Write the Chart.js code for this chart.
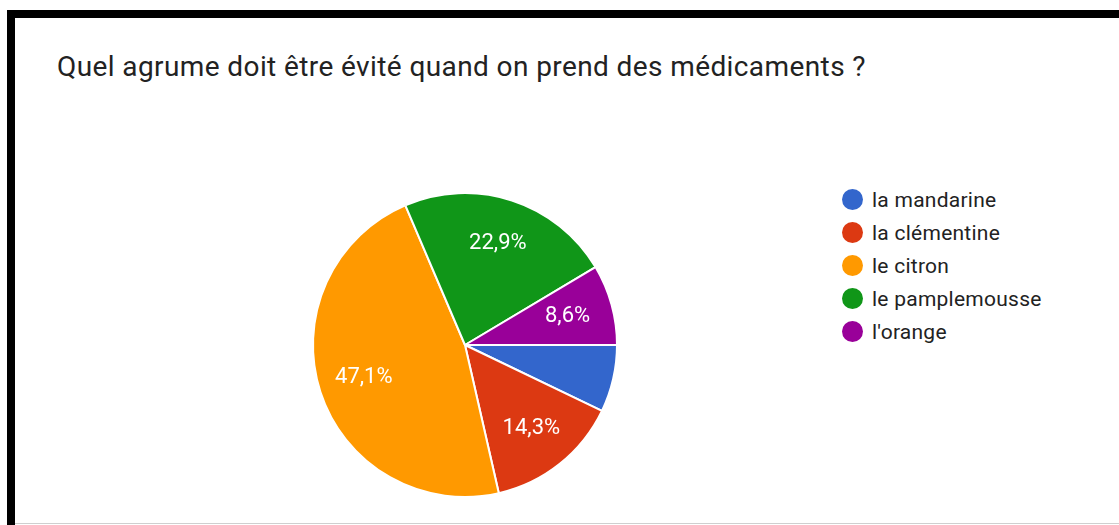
<!DOCTYPE html>
<html lang="fr">
<head>
<meta charset="utf-8">
<title>Quel agrume doit être évité</title>
<script src="https://cdn.jsdelivr.net/npm/chart.js@4/dist/chart.umd.min.js"></script>
<style>
  html, body { margin: 0; padding: 0; background: #fff; }
  body { width: 1119px; height: 525px; position: relative; overflow: hidden; font-family: Roboto, Arial, sans-serif; }

  /* frame bits from the screenshot */
  .bar-top  { position: absolute; left: 7px; top: 10px; width: 1112px; height: 8px; background: #000; }
  .bar-left { position: absolute; left: 7px; top: 10px; width: 8px; height: 515px; background: #000; }
  .line-bot { position: absolute; left: 15px; top: 523px; width: 1104px; height: 1px; background: #cfcfcf; }

  .title { position: absolute; left: 57px; top: 53px; font-size: 28px; line-height: 28px; letter-spacing: 0.4px; color: #222; white-space: nowrap; }

  .pie-wrap { position: absolute; left: 300px; top: 180px; width: 330px; height: 330px; }

  .legend { position: absolute; left: 842px; top: 183px; margin: 0; padding: 0; list-style: none; }
  .legend li { display: flex; align-items: center; height: 33px; }
  .legend .dot { width: 21px; height: 21px; border-radius: 50%; margin-right: 9px; flex: none; }
  .legend .txt { font-size: 21px; letter-spacing: 0.25px; color: #222; white-space: nowrap; }
</style>
</head>
<body>

<div class="bar-top"></div>
<div class="bar-left"></div>
<div class="line-bot"></div>

<div class="title">Quel agrume doit être évité quand on prend des médicaments ?</div>

<div class="pie-wrap"><canvas id="pieChart"></canvas></div>
<ul class="legend" id="pie-legend"></ul>

<script>
/* ── Data ───────────────────────────────────────────────── */

const labels = ['la mandarine', 'la clémentine', 'le citron', 'le pamplemousse', "l'orange"];
const counts = [5, 10, 33, 16, 6];
const colors = ['#3366CC', '#DC3912', '#FF9900', '#109618', '#990099'];

const LABEL_MIN_PCT = 8;   // smaller slices get no text (like the original)


/* ── Slice percentage labels ────────────────────────────── */

const sliceLabels = {
  id: 'sliceLabels',
  afterDatasetsDraw(chart) {
    const { ctx } = chart;
    const meta  = chart.getDatasetMeta(0);
    const data  = chart.data.datasets[0].data;
    const total = data.reduce((a, b) => a + b, 0);

    ctx.save();
    ctx.font = '22px Roboto, Arial, sans-serif';
    ctx.fillStyle = '#fff';
    ctx.textAlign = 'center';
    ctx.textBaseline = 'middle';

    meta.data.forEach((arc, i) => {
      const pct = data[i] / total * 100;
      if (pct < LABEL_MIN_PCT) return;
      const { x, y, startAngle, endAngle, outerRadius } = arc.getProps(['x', 'y', 'startAngle', 'endAngle', 'outerRadius'], true);
      const mid = (startAngle + endAngle) / 2;
      const r   = outerRadius * 0.7;
      const txt = pct.toFixed(1).replace('.', ',') + '%';
      ctx.fillText(txt, x + Math.cos(mid) * r, y + Math.sin(mid) * r);
    });

    ctx.restore();
  }
};


/* ── Chart ──────────────────────────────────────────────── */

const chart = new Chart(document.getElementById('pieChart'), {
  type: 'pie',
  data: {
    labels,
    datasets: [{
      data: counts,
      backgroundColor: colors,
      borderColor: '#fff',
      borderWidth: 2
    }]
  },
  options: {
    responsive: true,
    maintainAspectRatio: false,
    animation: false,
    rotation: 90,
    layout: { padding: 12 },
    plugins: {
      legend: { display: false },
      tooltip: { enabled: false }
    }
  },
  plugins: [sliceLabels]
});


/* ── Legend (built from the chart's own legend items) ───── */

const items = chart.options.plugins.legend.labels.generateLabels(chart);
document.getElementById('pie-legend').innerHTML = items.map(it => `
  <li><span class="dot" style="background:${it.fillStyle}"></span><span class="txt">${it.text}</span></li>
`).join('');
</script>
</body>
</html>
